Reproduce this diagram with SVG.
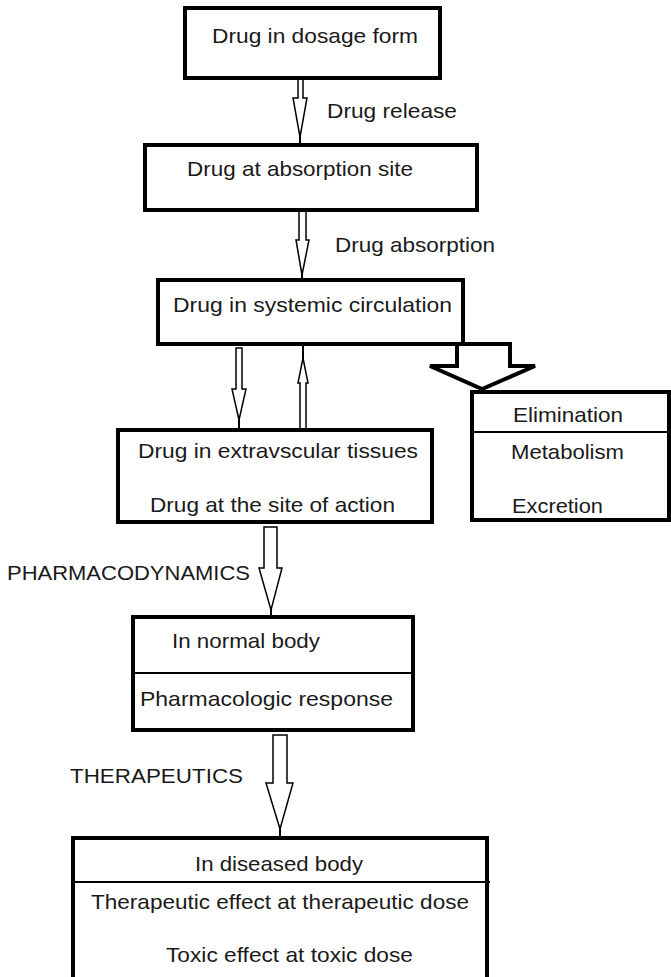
<svg xmlns="http://www.w3.org/2000/svg" width="671" height="977" viewBox="0 0 671 977">
<style>
text { font-family: "Liberation Sans", Arial, sans-serif; font-size: 21px; fill: #1a1a1a; }
.box { fill: #ffffff; stroke: #000000; stroke-width: 4; }
.div { stroke: #000000; stroke-width: 2; fill: none; }
.arr { fill: #ffffff; stroke: #000000; stroke-width: 1.5; stroke-linejoin: miter; }
.line { stroke: #000000; stroke-width: 2; fill: none; }
.big { fill: #ffffff; stroke: #000000; stroke-width: 4; stroke-linejoin: miter; }
</style>
<rect width="671" height="977" fill="#ffffff"/>

<g id="connectors">
  <!-- Drug release -->
  <polygon class="arr" points="298,78 303,78 303,98 307,98 300,137 293,98 298,98"/>
  <line class="line" x1="300" y1="136" x2="300" y2="145"/>
  <!-- Drug absorption -->
  <polygon class="arr" points="299,210 306,210 306,240 309,240 302,275 296,240 299,240"/>
  <line class="line" x1="302" y1="274" x2="302" y2="280"/>
  <!-- down to tissues -->
  <polygon class="arr" points="236,348 242,348 242,389 246,389 239,420 232,389 236,389"/>
  <line class="line" x1="239" y1="419" x2="239" y2="430"/>
  <!-- up from tissues -->
  <polygon class="arr" points="300,430 306,430 306,383 308,383 303,358 298,383 300,383"/>
  <line class="line" x1="303" y1="345" x2="303" y2="359"/>
  <!-- elimination big arrow -->
  <polygon class="big" points="457,344 510,344 510,366 535,366 482,389 430,366 457,366"/>
  <!-- pharmacodynamics -->
  <polygon class="arr" points="264,527 277,527 277,568 282,568 271,610 259,568 264,568"/>
  <line class="line" x1="271" y1="609" x2="271" y2="617"/>
  <!-- therapeutics -->
  <polygon class="arr" points="273,735 287,735 287,783 293,783 280,829 266,783 273,783"/>
  <line class="line" x1="280" y1="828" x2="280" y2="838"/>
  <text x="327" y="118" textLength="130" lengthAdjust="spacingAndGlyphs">Drug release</text>
  <text x="335" y="252" textLength="160" lengthAdjust="spacingAndGlyphs">Drug absorption</text>
  <text x="7" y="580" textLength="243" lengthAdjust="spacingAndGlyphs">PHARMACODYNAMICS</text>
  <text x="70" y="783" textLength="173" lengthAdjust="spacingAndGlyphs">THERAPEUTICS</text>
</g>

<g id="n1">
  <rect class="box" x="185" y="8" width="255" height="70"/>
  <text x="212" y="43" textLength="206" lengthAdjust="spacingAndGlyphs">Drug in dosage form</text>
</g>

<g id="n2">
  <rect class="box" x="145" y="145" width="332" height="65"/>
  <text x="187" y="176" textLength="226" lengthAdjust="spacingAndGlyphs">Drug at absorption site</text>
</g>

<g id="n3">
  <rect class="box" x="158" y="280" width="305" height="64"/>
  <text x="173" y="312" textLength="279" lengthAdjust="spacingAndGlyphs">Drug in systemic circulation</text>
</g>

<g id="n4">
  <rect class="box" x="118" y="430" width="314" height="92"/>
  <text x="138" y="458" textLength="280" lengthAdjust="spacingAndGlyphs">Drug in extravscular tissues</text>
  <text x="150" y="512" textLength="245" lengthAdjust="spacingAndGlyphs">Drug at the site of action</text>
</g>

<g id="n5">
  <rect class="box" x="472" y="392" width="197" height="128"/>
  <line class="div" x1="472" y1="432" x2="669" y2="432"/>
  <text x="513" y="422" textLength="110" lengthAdjust="spacingAndGlyphs">Elimination</text>
  <text x="511" y="459" textLength="113" lengthAdjust="spacingAndGlyphs">Metabolism</text>
  <text x="512" y="513" textLength="91" lengthAdjust="spacingAndGlyphs">Excretion</text>
</g>

<g id="n6">
  <rect class="box" x="133" y="617" width="280" height="113"/>
  <line class="div" x1="133" y1="673" x2="413" y2="673" stroke-width="1.5"/>
  <text x="172" y="648" textLength="148" lengthAdjust="spacingAndGlyphs">In normal body</text>
  <text x="140" y="706" textLength="253" lengthAdjust="spacingAndGlyphs">Pharmacologic response</text>
</g>

<g id="n7">
  <rect class="box" x="73" y="838" width="414" height="150"/>
  <line class="div" x1="71" y1="882" x2="490" y2="882"/>
  <text x="195" y="871" textLength="168" lengthAdjust="spacingAndGlyphs">In diseased body</text>
  <text x="91" y="909" textLength="378" lengthAdjust="spacingAndGlyphs">Therapeutic effect at therapeutic dose</text>
  <text x="166" y="962" textLength="247" lengthAdjust="spacingAndGlyphs">Toxic effect at toxic dose</text>
</g>
</svg>
